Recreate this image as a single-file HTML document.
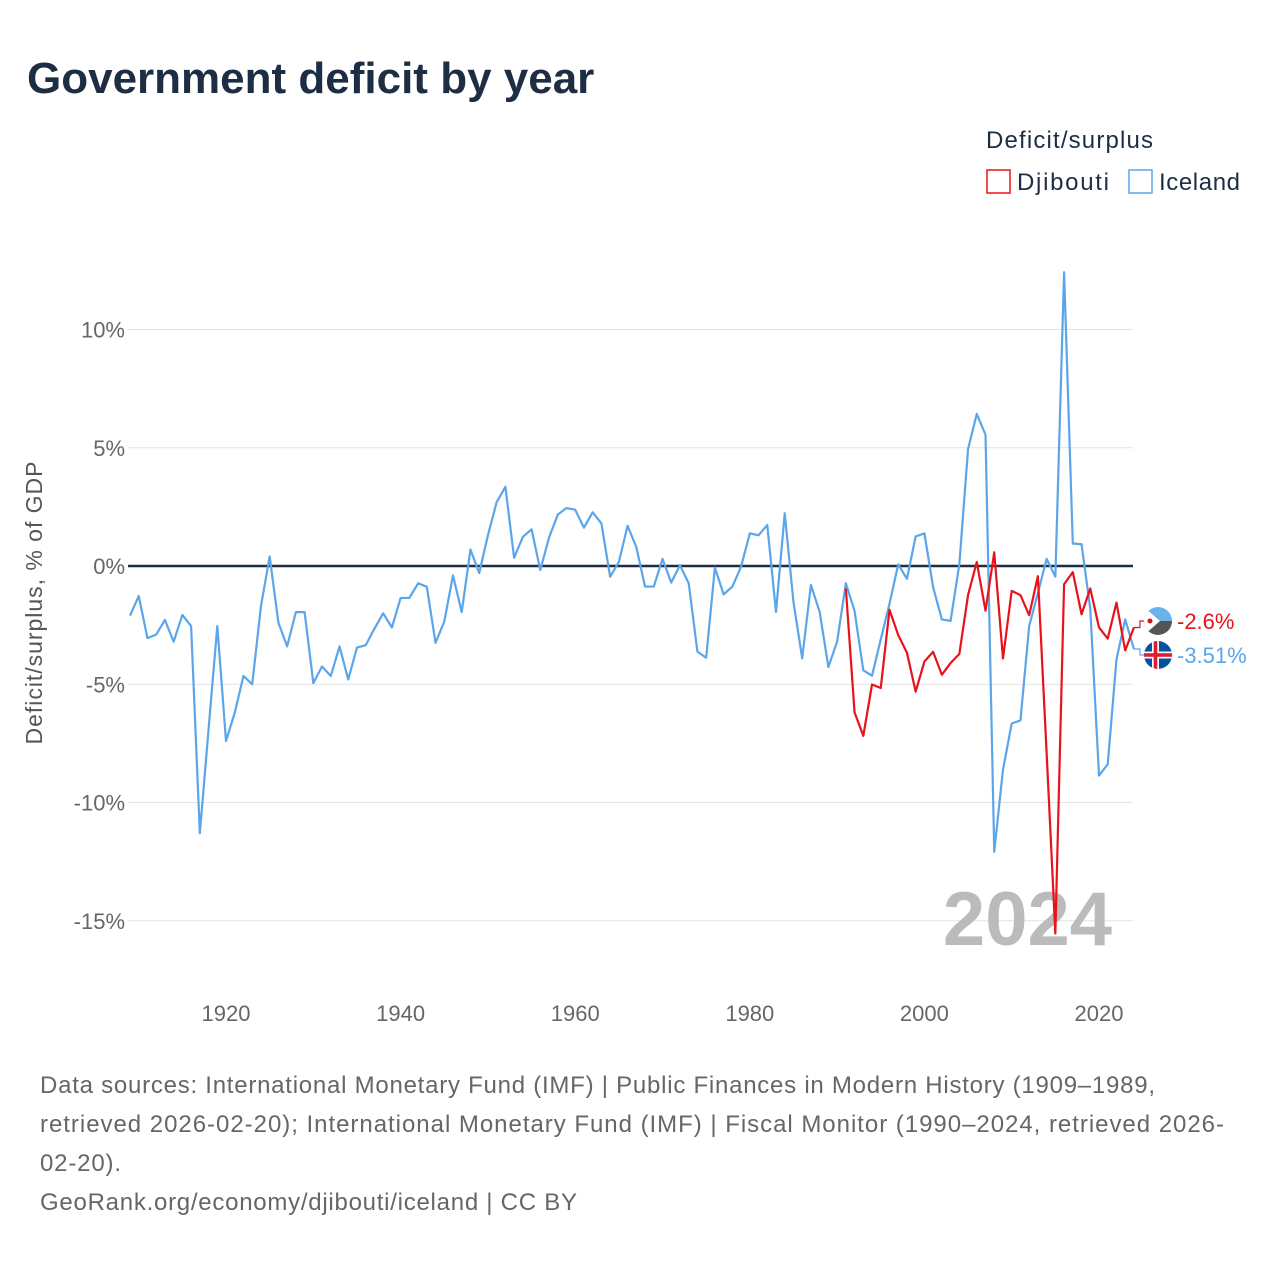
<!DOCTYPE html>
<html><head><meta charset="utf-8"><style>
body{margin:0;background:#fff;font-family:"Liberation Sans",sans-serif}
#wrap{position:relative;width:1280px;height:1280px;overflow:hidden}
</style></head><body>
<div id="wrap">
<svg id="chart" width="1280" height="1280" xmlns="http://www.w3.org/2000/svg">
<text x="27" y="93" font-size="44" font-weight="bold" fill="#1d2d44">Government deficit by year</text>
<text x="986" y="148" font-size="24" fill="#1d2d44" textLength="167">Deficit/surplus</text>
<g><rect x="987" y="170" width="23" height="23" fill="none" stroke="#e8131a" stroke-width="1.5"/><text x="1017" y="190" font-size="24" fill="#1d2d44" textLength="92">Djibouti</text></g>
<g><rect x="1129" y="170" width="23" height="23" fill="none" stroke="#5ba5ea" stroke-width="1.5"/><text x="1159" y="190" font-size="24" fill="#1d2d44" textLength="81">Iceland</text></g>
<g id="grid"></g>
<text x="42" y="603" font-size="23" fill="#555" text-anchor="middle" textLength="283" transform="rotate(-90 42 603)">Deficit/surplus, % of GDP</text>
<text x="1112" y="945" font-size="76" font-weight="bold" fill="#bbb" text-anchor="end">2024</text>
<g id="series"></g>
<g id="ends"></g>
<g font-size="24" fill="#666">
<text x="40" y="1093" textLength="1115">Data sources: International Monetary Fund (IMF) | Public Finances in Modern History (1909–1989,</text>
<text x="40" y="1132" textLength="1184">retrieved 2026-02-20); International Monetary Fund (IMF) | Fiscal Monitor (1990–2024, retrieved 2026-</text>
<text x="40" y="1171" textLength="81">02-20).</text>
<text x="40" y="1210" textLength="537">GeoRank.org/economy/djibouti/iceland | CC BY</text>
</g>
</svg>
</div>
<script>
const yTicks=[10,5,0,-5,-10,-15];
const xTicks=[1920,1940,1960,1980,2000,2020];
const icelandStart=1909;
const icelandValues=[-2.1,-1.27,-3.05,-2.9,-2.28,-3.2,-2.07,-2.54,-11.3,-6.9,-2.54,-7.4,-6.2,-4.65,-5.0,-1.7,0.4,-2.4,-3.4,-1.95,-1.95,-4.95,-4.25,-4.65,-3.4,-4.8,-3.45,-3.35,-2.65,-2.0,-2.6,-1.35,-1.35,-0.73,-0.88,-3.25,-2.35,-0.4,-1.95,0.7,-0.3,1.3,2.7,3.35,0.35,1.23,1.55,-0.17,1.2,2.17,2.45,2.38,1.62,2.27,1.8,-0.45,0.17,1.7,0.8,-0.87,-0.87,0.3,-0.7,0.03,-0.73,-3.62,-3.88,-0.07,-1.2,-0.87,-0.03,1.38,1.3,1.73,-1.94,2.23,-1.52,-3.9,-0.8,-1.94,-4.27,-3.2,-0.73,-1.9,-4.41,-4.64,-3.1,-1.6,0.07,-0.54,1.25,1.38,-0.9,-2.26,-2.32,0.07,4.94,6.43,5.55,-12.08,-8.62,-6.66,-6.53,-2.54,-1.14,0.3,-0.45,12.42,0.95,0.92,-1.8,-8.86,-8.38,-3.95,-2.26,-3.51];
const djiboutiStart=1991;
const djiboutiValues=[-0.95,-6.19,-7.18,-5.01,-5.16,-1.85,-2.92,-3.67,-5.31,-4.04,-3.63,-4.6,-4.1,-3.72,-1.23,0.17,-1.89,0.58,-3.91,-1.05,-1.23,-2.08,-0.43,-7.9,-15.54,-0.77,-0.26,-2.04,-0.95,-2.6,-3.07,-1.55,-3.57,-2.6];
const NS="http://www.w3.org/2000/svg";
const X=y=>130+(y-1909)*(1099-130)/(2020-1909);
const Y=v=>566-v*23.65;
function mk(t,a,p){const e=document.createElementNS(NS,t);for(const k in a)e.setAttribute(k,a[k]);p.appendChild(e);return e;}
const grid=document.getElementById('grid');
yTicks.forEach(v=>{
 const l=mk('line',{x1:128,x2:1133,y1:Y(v),y2:Y(v),stroke:v===0?'#1d2d44':'#e3e3e3','stroke-width':v===0?2.5:1},grid);
 
 
 const t=mk('text',{x:125,y:Y(v)+8,'font-size':22,fill:'#666','text-anchor':'end'},grid);
 t.textContent=v+'%';
 
 
});
xTicks.forEach(y=>{
 const t=mk('text',{x:X(y),y:1021,'font-size':22,fill:'#666','text-anchor':'middle'},grid);
 t.textContent=y;
 
 
});
const S=document.getElementById('series');
function line(start,vals,col,name){
 const p=mk('polyline',{points:vals.map((v,i)=>X(start+i)+','+Y(v)).join(' '),fill:'none',stroke:col,'stroke-width':2.2,'stroke-linejoin':'round'},S);
 
 
}
line(icelandStart,icelandValues,'#5ba5ea','iceland-line');
line(djiboutiStart,djiboutiValues,'#e8131a','djibouti-line');
const E=document.getElementById('ends');
function endLabel(v,ly,col,name,flag){
 const lx=X(2024);
 const c=mk('polyline',{points:`${lx},${Y(v)} ${lx+6},${Y(v)} ${lx+6},${ly} 1145,${ly}`,fill:'none',stroke:col,'stroke-width':1.2},E);
 
 
 const g=mk('g',{},E);
 
 
 mk('defs',{},g).innerHTML=`<clipPath id="cp${name}"><circle cx="1158" cy="${ly}" r="14"/></clipPath>`;
 const f=mk('g',{'clip-path':`url(#cp${name})`},g);
 if(flag==='is'){
  mk('rect',{x:1144,y:ly-14,width:28,height:28,fill:'#02529c'},f);
  mk('rect',{x:1144,y:ly-3.5,width:28,height:7,fill:'#fff'},f);
  mk('rect',{x:1152,y:ly-14,width:7,height:28,fill:'#fff'},f);
  mk('rect',{x:1144,y:ly-1.8,width:28,height:3.6,fill:'#dc1e35'},f);
  mk('rect',{x:1153.7,y:ly-14,width:3.6,height:28,fill:'#dc1e35'},f);
 }else{
  mk('rect',{x:1144,y:ly-14,width:28,height:14,fill:'#6ab2e7'},f);
  mk('rect',{x:1144,y:ly,width:28,height:14,fill:'#555'},f);
  mk('polygon',{points:`1144,${ly-14} 1160,${ly} 1144,${ly+14}`,fill:'#fff'},f);
  mk('circle',{cx:1150,cy:ly,r:2.5,fill:'#d7141a'},f);
 }
 const t=mk('text',{x:1177,y:ly+8,'font-size':22,fill:col},E);
 t.textContent=v+'%';
 
 
}
endLabel(djiboutiValues[djiboutiValues.length-1],621,'#e8131a','djibouti','dj');
endLabel(icelandValues[icelandValues.length-1],655,'#5ba5ea','iceland','is');
</script>
</body></html>
